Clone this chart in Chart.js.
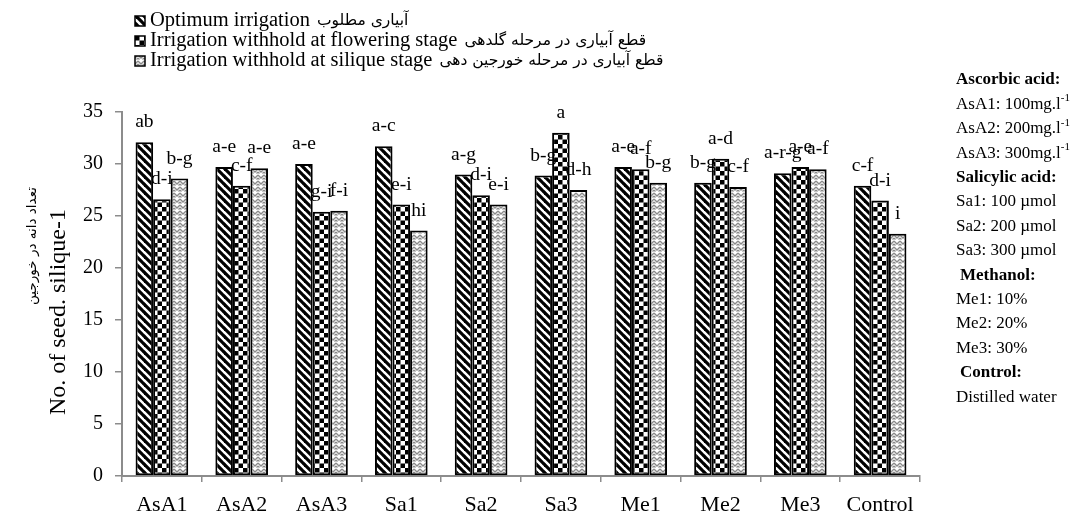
<!DOCTYPE html>
<html>
<head>
<meta charset="utf-8">
<script src="https://cdn.jsdelivr.net/npm/chart.js@4.4.1/dist/chart.umd.min.js"></script>
<style>
  html, body { margin: 0; padding: 0; background: #fff; }
</style>
</head>
<body>
<canvas id="seedChart" width="1078" height="519"></canvas>
<script>
// data
const categories = ['AsA1', 'AsA2', 'AsA3', 'Sa1', 'Sa2', 'Sa3', 'Me1', 'Me2', 'Me3', 'Control'];
const optimum   = [32.1, 29.7, 30.0, 31.7, 29.0, 28.9, 29.7, 28.2, 29.1, 27.9];
const flowering = [26.6, 27.9, 25.4, 26.1, 27.0, 33.0, 29.5, 30.5, 29.7, 26.5];
const silique   = [28.6, 29.6, 25.5, 23.6, 26.1, 27.5, 28.2, 27.8, 29.5, 23.3];
const optimumLetters   = ['ab', 'a-e', 'a-e', 'a-c', 'a-g', 'b-g', 'a-e', 'b-g', 'a-r-g', 'c-f'];
const floweringLetters = ['d-i', 'c-f', 'g-i', 'e-i', 'd-i', 'a', 'a-f', 'a-d', 'a-e', 'd-i'];
const siliqueLetters   = ['b-g', 'a-e', 'f-i', 'hi', 'e-i', 'd-h', 'b-g', 'c-f', 'a-f', 'i'];
const yTicks = [0, 5, 10, 15, 20, 25, 30, 35];

const serif = "'Liberation Serif', 'Times New Roman', serif";
const persianFont = "'DejaVu Sans', sans-serif";

// fill patterns
function stripePattern() {
  const c = document.createElement('canvas');
  c.width = 8; c.height = 8;
  const g = c.getContext('2d');
  g.fillStyle = '#fff'; g.fillRect(0, 0, 8, 8);
  g.strokeStyle = '#000'; g.lineWidth = 3.2;
  for (let o = -8; o <= 8; o += 8) {
    g.beginPath(); g.moveTo(o - 1, -1); g.lineTo(o + 9, 9); g.stroke();
  }
  return g.createPattern(c, 'repeat');
}
function checkerPattern() {
  const c = document.createElement('canvas');
  c.width = 9; c.height = 9;
  const g = c.getContext('2d');
  g.fillStyle = '#fff'; g.fillRect(0, 0, 9, 9);
  g.fillStyle = '#000';
  g.fillRect(0, 0, 4.5, 4.5);
  g.fillRect(4.5, 4.5, 4.5, 4.5);
  return g.createPattern(c, 'repeat');
}
function weavePattern() {
  const c = document.createElement('canvas');
  c.width = 6; c.height = 6;
  const g = c.getContext('2d');
  g.fillStyle = '#fff'; g.fillRect(0, 0, 6, 6);
  g.strokeStyle = '#8a8a8a'; g.lineWidth = 1.3;
  g.beginPath(); g.moveTo(0, 1); g.lineTo(3, 4); g.lineTo(6, 1); g.stroke();
  g.beginPath(); g.moveTo(0, 4); g.lineTo(1.5, 5.5); g.moveTo(4.5, 5.5); g.lineTo(6, 4); g.stroke();
  return g.createPattern(c, 'repeat');
}
const fills = [stripePattern(), checkerPattern(), weavePattern()];
const allLetters = [optimumLetters, floweringLetters, siliqueLetters];

const legendItems = [
  ['Optimum irrigation', 'آبیاری مطلوب'],
  ['Irrigation withhold at flowering stage', 'قطع آبیاری در مرحله گلدهی'],
  ['Irrigation withhold at silique stage', 'قطع آبیاری در مرحله خورجین دهی']
];

// right hand note block: [text, bold, superscript, indent]
const notes = [
  ['Ascorbic acid:', true, '', 0],
  ['AsA1: 100mg.l', false, '-1', 0],
  ['AsA2: 200mg.l', false, '-1', 0],
  ['AsA3: 300mg.l', false, '-1', 0],
  ['Salicylic acid:', true, '', 0],
  ['Sa1: 100 µmol', false, '', 0],
  ['Sa2: 200 µmol', false, '', 0],
  ['Sa3: 300 µmol', false, '', 0],
  ['Methanol:', true, '', 4],
  ['Me1: 10%', false, '', 0],
  ['Me2: 20%', false, '', 0],
  ['Me3: 30%', false, '', 0],
  ['Control:', true, '', 4],
  ['Distilled water', false, '', 0]
];

const extras = {
  id: 'extras',
  afterDatasetsDraw(chart) {
    const ctx = chart.ctx;
    ctx.save();
    ctx.fillStyle = '#000';
    ctx.font = '19.5px ' + serif;
    ctx.textAlign = 'center';
    ctx.textBaseline = 'middle';
    chart.data.datasets.forEach((ds, i) => {
      chart.getDatasetMeta(i).data.forEach((bar, j) => {
        ctx.fillText(allLetters[i][j], bar.x, bar.y - 20);
      });
    });
    ctx.restore();
  },
  afterDraw(chart) {
    const ctx = chart.ctx;
    ctx.save();
    ctx.fillStyle = '#000';
    ctx.textBaseline = 'middle';

    // legend
    legendItems.forEach((item, i) => {
      const y = 21 + i * 20;
      ctx.fillStyle = fills[i];
      ctx.fillRect(135, y - 5, 10, 10);
      ctx.strokeStyle = '#000';
      ctx.lineWidth = 1.5;
      ctx.strokeRect(135, y - 5, 10, 10);
      ctx.fillStyle = '#000';
      ctx.textAlign = 'left';
      ctx.font = '20.5px ' + serif;
      ctx.fillText(item[0], 150, y);
      const w = ctx.measureText(item[0]).width;
      ctx.font = '15.5px ' + persianFont;
      ctx.fillText(item[1], 150 + w + 7, y);
    });

    // y axis titles
    ctx.save();
    ctx.translate(59, 312);
    ctx.rotate(-Math.PI / 2);
    ctx.textAlign = 'center';
    ctx.font = '24px ' + serif;
    ctx.fillText('No. of seed. silique-1', 0, 0);
    ctx.restore();
    ctx.save();
    ctx.translate(32, 246);
    ctx.rotate(-Math.PI / 2);
    ctx.textAlign = 'center';
    ctx.font = '13.5px ' + persianFont;
    ctx.fillText('تعداد دانه در خورجین', 0, 0);
    ctx.restore();

    // notes
    notes.forEach((n, i) => {
      const y = 80 + i * 24.4;
      const x = 956 + n[3];
      ctx.textAlign = 'left';
      ctx.font = (n[1] ? 'bold ' : '') + '17px ' + serif;
      ctx.fillText(n[0], x, y);
      if (n[2]) {
        const w = ctx.measureText(n[0]).width;
        ctx.font = '11px ' + serif;
        ctx.fillText(n[2], x + w, y - 6);
      }
    });
    ctx.restore();
  }
};

new Chart(document.getElementById('seedChart'), {
  type: 'bar',
  data: {
    labels: categories,
    datasets: [
      { label: 'Optimum irrigation', data: optimum },
      { label: 'Irrigation withhold at flowering stage', data: flowering },
      { label: 'Irrigation withhold at silique stage', data: silique }
    ].map((d, i) => Object.assign(d, {
      backgroundColor: fills[i],
      borderColor: '#000',
      borderWidth: 2,
      borderSkipped: false,
      categoryPercentage: 0.66,
      barPercentage: 1
    }))
  },
  options: {
    responsive: false,
    animation: false,
    devicePixelRatio: 1,
    layout: { padding: { top: 112, right: 158, bottom: 0, left: 0 } },
    plugins: { legend: { display: false }, tooltip: { enabled: false } },
    scales: {
      x: {
        afterFit: s => { s.height = 43; },
        grid: { offset: true, drawOnChartArea: false, color: '#8c8c8c', lineWidth: 1.5, tickLength: 6 },
        border: { color: '#8c8c8c', width: 2 },
        ticks: { color: '#000', font: { family: serif, size: 22 }, padding: 10 }
      },
      y: {
        min: 0,
        max: 35,
        afterFit: s => { s.width = 122; },
        afterBuildTicks: s => { s.ticks = yTicks.map(v => ({ value: v })); },
        grid: { drawOnChartArea: false, color: '#8c8c8c', lineWidth: 1.5, tickLength: 7 },
        border: { color: '#8c8c8c', width: 2 },
        ticks: { color: '#000', font: { family: serif, size: 20 }, padding: 12 }
      }
    }
  },
  plugins: [extras]
});
</script>
</body>
</html>
